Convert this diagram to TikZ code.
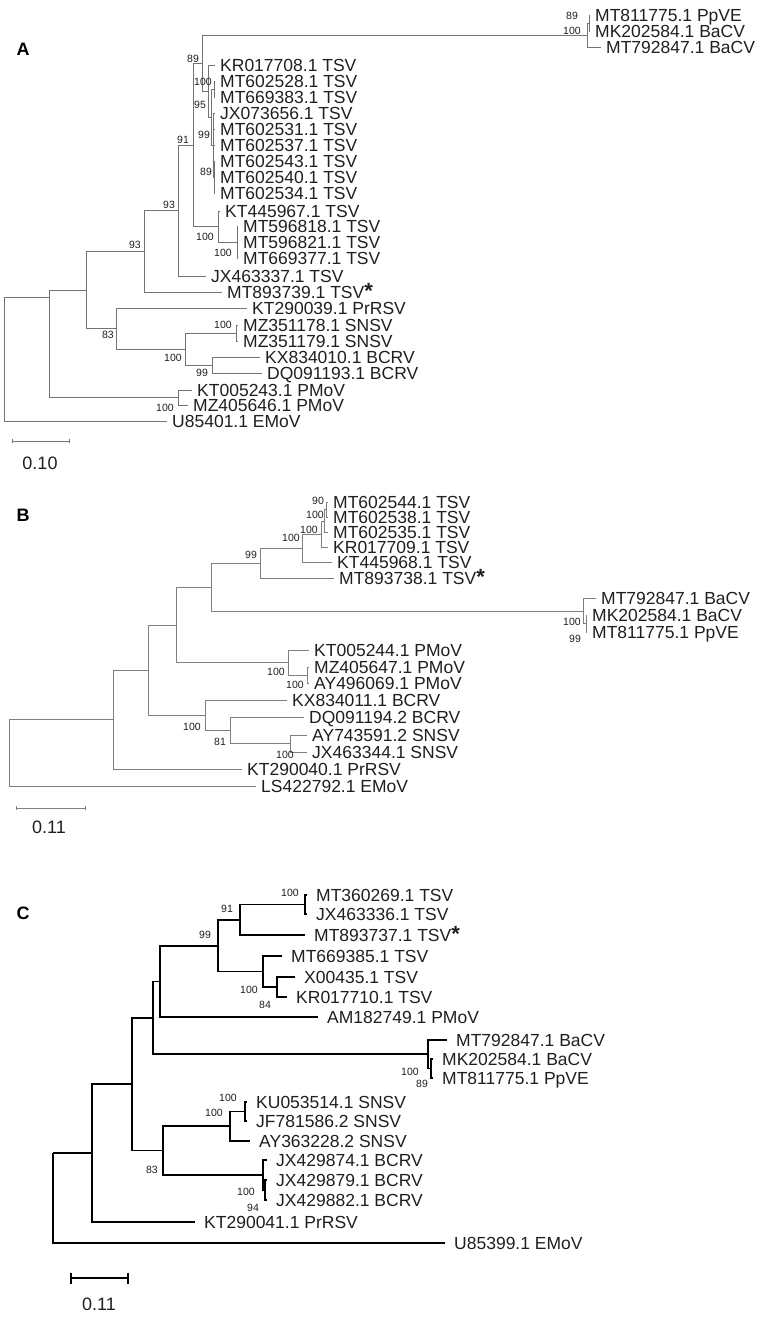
\documentclass[tikz,border=0pt]{standalone}
\usepackage{fontspec}
\setmainfont{Liberation Sans}
\usetikzlibrary{arrows.meta}

\begin{document}
\begin{tikzpicture}[x=1pt, y=-1pt,
	leaf/.style={anchor=west, inner xsep=5pt, inner ysep=0pt, text height=12.5pt, text depth=0pt, text=black!88, font=\fontsize{17.5}{17.5}\selectfont},
	leafC/.style={leaf, inner xsep=9pt},
	boot/.style={inner sep=0pt, text=black!88, font=\fontsize{10.5}{10.5}\selectfont},
	panel/.style={inner sep=0pt, font=\fontsize{18}{18}\selectfont\bfseries},
	scalelbl/.style={inner sep=0pt, text=black!88, font=\fontsize{18}{18}\selectfont},
	edgeA/.style={draw=black!55, line width=0.9pt},
	edgeB/.style={draw=black!50, line width=1pt},
	edgeC/.style={draw=black, line width=1.7pt}]

	\useasboundingbox (0,0) rectangle (765,1318);

	% A
	\node[panel] (A) at (23,49) {A};
	\node[leaf] (aMT811775) at (590,15) {MT811775.1 PpVE};
	\node[leaf] (aMK202584) at (590,31) {MK202584.1 BaCV};
	\node[leaf] (aMT792847) at (601,47) {MT792847.1 BaCV};
	\node[leaf] (aKR017708) at (215,65) {KR017708.1 TSV};
	\node[leaf] (aMT602528) at (215,81) {MT602528.1 TSV};
	\node[leaf] (aMT669383) at (215,97) {MT669383.1 TSV};
	\node[leaf] (aJX073656) at (215,113) {JX073656.1 TSV};
	\node[leaf] (aMT602531) at (215,129) {MT602531.1 TSV};
	\node[leaf] (aMT602537) at (215,145) {MT602537.1 TSV};
	\node[leaf] (aMT602543) at (215,161) {MT602543.1 TSV};
	\node[leaf] (aMT602540) at (215,177) {MT602540.1 TSV};
	\node[leaf] (aMT602534) at (215,193) {MT602534.1 TSV};
	\node[leaf] (aKT445967) at (220,211) {KT445967.1 TSV};
	\node[leaf] (aMT596818) at (238,226) {MT596818.1 TSV};
	\node[leaf] (aMT596821) at (238,242) {MT596821.1 TSV};
	\node[leaf] (aMT669377) at (238,258) {MT669377.1 TSV};
	\node[leaf] (aJX463337) at (206,276) {JX463337.1 TSV};
	\node[leaf] (aMT893739) at (222,292) {MT893739.1 TSV{\bfseries\fontsize{22}{22}\selectfont *}};
	\node[leaf] (aKT290039) at (247,308) {KT290039.1 PrRSV};
	\node[leaf] (aMZ351178) at (238,325) {MZ351178.1 SNSV};
	\node[leaf] (aMZ351179) at (238,341) {MZ351179.1 SNSV};
	\node[leaf] (aKX834010) at (260,357) {KX834010.1 BCRV};
	\node[leaf] (aDQ091193) at (262,373) {DQ091193.1 BCRV};
	\node[leaf] (aKT005243) at (192,390) {KT005243.1 PMoV};
	\node[leaf] (aMZ405646) at (188,405) {MZ405646.1 PMoV};
	\node[leaf] (aU85401) at (167,421) {U85401.1 EMoV};

	\coordinate (aBaCVin) at (589,23);
	\coordinate (aBaCV) at (587,35);
	\coordinate (a214) at (214,177);
	\coordinate (a213b) at (213,145);
	\coordinate (a213a) at (214,89);
	\coordinate (a211) at (211,117);
	\coordinate (a209) at (208,91);
	\coordinate (a202) at (202,63);
	\coordinate (a237) at (237,242);
	\coordinate (a218) at (218,226.5);
	\coordinate (a193) at (193,145);
	\coordinate (a178) at (178,210);
	\coordinate (a144) at (144,251);
	\coordinate (a236) at (236,333);
	\coordinate (a212) at (212,365);
	\coordinate (a185) at (185,349);
	\coordinate (a116) at (116,328.5);
	\coordinate (a86) at (86,290);
	\coordinate (aPMoV) at (178,397.5);
	\coordinate (a49) at (49,297);
	\coordinate (aRoot) at (4,297);

	\draw[edgeA] (aRoot) |- (a49) (aRoot) |- (aU85401.west);
	\draw[edgeA] (a49) |- (a86) (a49) |- (aPMoV);
	\draw[edgeA] (aPMoV) |- (aKT005243.west) (aPMoV) |- (aMZ405646.west);
	\draw[edgeA] (a86) |- (a144) (a86) |- (a116);
	\draw[edgeA] (a116) |- (aKT290039.west) (a116) |- (a185);
	\draw[edgeA] (a185) |- (a236) (a185) |- (a212);
	\draw[edgeA] (a236) |- (aMZ351178.west) (a236) |- (aMZ351179.west);
	\draw[edgeA] (a212) |- (aKX834010.west) (a212) |- (aDQ091193.west);
	\draw[edgeA] (a144) |- (a178) (a144) |- (aMT893739.west);
	\draw[edgeA] (a178) |- (a193) (a178) |- (aJX463337.west);
	\draw[edgeA] (a193) |- (a202) (a193) |- (a218);
	\draw[edgeA] (a218) |- (aKT445967.west) (a218) |- (a237);
	\draw[edgeA] (a237) |- (aMT596818.west) (a237) |- (aMT596821.west) (a237) |- (aMT669377.west);
	\draw[edgeA] (a202) |- (aBaCV) (a202) |- (a209);
	\draw[edgeA] (aBaCV) |- (aBaCVin) (aBaCV) |- (aMT792847.west);
	\draw[edgeA] (aBaCVin) |- (aMT811775.west) (aBaCVin) |- (aMK202584.west);
	\draw[edgeA] (a209) |- (aKR017708.west) (a209) |- (a211);
	\draw[edgeA] (a211) |- (a213a) (a211) |- (a213b);
	\draw[edgeA] (a213a) |- (aMT602528.west) (a213a) |- (aMT669383.west);
	\draw[edgeA] (a213b) |- (aJX073656.west) (a213b) |- (aMT602531.west) (a213b) |- (aMT602537.west) (a213b) |- (a214);
	\draw[edgeA] (a214) |- (aMT602543.west) (a214) |- (aMT602540.west) (a214) |- (aMT602534.west);

	\node[boot] (ab1) at (572,16) {89};
	\node[boot] (ab2) at (572,31) {100};
	\node[boot] (ab3) at (193,59) {89};
	\node[boot] (ab4) at (203,82) {100};
	\node[boot] (ab5) at (200,105) {95};
	\node[boot] (ab6) at (204,135) {99};
	\node[boot] (ab7) at (206,172) {89};
	\node[boot] (ab8) at (183,140) {91};
	\node[boot] (ab9) at (169,205) {93};
	\node[boot] (ab10) at (135,245) {93};
	\node[boot] (ab11) at (205,237) {100};
	\node[boot] (ab12) at (223,253) {100};
	\node[boot] (ab13) at (223,325) {100};
	\node[boot] (ab14) at (108,335) {83};
	\node[boot] (ab15) at (173,358) {100};
	\node[boot] (ab16) at (202,373) {99};
	\node[boot] (ab17) at (165,408) {100};

	\coordinate (aSL) at (12,441);
	\coordinate (aSR) at (70,441);
	\draw[edgeA, {Bar[width=4pt]}-{Bar[width=4pt]}] (aSL) -- (aSR);
	\node[scalelbl] (aScale) at (40,463) {0.10};

	% B
	\node[panel] (B) at (23,515) {B};
	\node[leaf] (bMT602544) at (328,502) {MT602544.1 TSV};
	\node[leaf] (bMT602538) at (328,517) {MT602538.1 TSV};
	\node[leaf] (bMT602535) at (328,532) {MT602535.1 TSV};
	\node[leaf] (bKR017709) at (328,547) {KR017709.1 TSV};
	\node[leaf] (bKT445968) at (332,562) {KT445968.1 TSV};
	\node[leaf] (bMT893738) at (334,578) {MT893738.1 TSV{\bfseries\fontsize{22}{22}\selectfont *}};
	\node[leaf] (bMT792847) at (596,598) {MT792847.1 BaCV};
	\node[leaf] (bMK202584) at (587,615) {MK202584.1 BaCV};
	\node[leaf] (bMT811775) at (587,632) {MT811775.1 PpVE};
	\node[leaf] (bKT005244) at (309,650) {KT005244.1 PMoV};
	\node[leaf] (bMZ405647) at (309,667) {MZ405647.1 PMoV};
	\node[leaf] (bAY496069) at (309,683) {AY496069.1 PMoV};
	\node[leaf] (bKX834011) at (287,700) {KX834011.1 BCRV};
	\node[leaf] (bDQ091194) at (304,717) {DQ091194.2 BCRV};
	\node[leaf] (bAY743591) at (307,735) {AY743591.2 SNSV};
	\node[leaf] (bJX463344) at (307,752) {JX463344.1 SNSV};
	\node[leaf] (bKT290040) at (242,769) {KT290040.1 PrRSV};
	\node[leaf] (bLS422792) at (256,786) {LS422792.1 EMoV};

	\coordinate (b326) at (326,509.5);
	\coordinate (b325) at (324,521);
	\coordinate (b322) at (321,534);
	\coordinate (b302) at (302,548);
	\coordinate (b260) at (260,563);
	\coordinate (b587) at (586,623.5);
	\coordinate (bBaCV) at (583,611);
	\coordinate (b211) at (211,587);
	\coordinate (b308) at (307,675);
	\coordinate (b288) at (288,662.5);
	\coordinate (b176) at (176,625);
	\coordinate (b290) at (290,743.5);
	\coordinate (b230) at (230,730);
	\coordinate (b205) at (205,715);
	\coordinate (b148) at (148,670);
	\coordinate (b113) at (113,719.5);
	\coordinate (bRoot) at (9,719.5);

	\draw[edgeB] (bRoot) |- (b113) (bRoot) |- (bLS422792.west);
	\draw[edgeB] (b113) |- (b148) (b113) |- (bKT290040.west);
	\draw[edgeB] (b148) |- (b176) (b148) |- (b205);
	\draw[edgeB] (b205) |- (bKX834011.west) (b205) |- (b230);
	\draw[edgeB] (b230) |- (bDQ091194.west) (b230) |- (b290);
	\draw[edgeB] (b290) |- (bAY743591.west) (b290) |- (bJX463344.west);
	\draw[edgeB] (b176) |- (b211) (b176) |- (b288);
	\draw[edgeB] (b288) |- (bKT005244.west) (b288) |- (b308);
	\draw[edgeB] (b308) |- (bMZ405647.west) (b308) |- (bAY496069.west);
	\draw[edgeB] (b211) |- (b260) (b211) |- (bBaCV);
	\draw[edgeB] (bBaCV) |- (bMT792847.west) (bBaCV) |- (b587);
	\draw[edgeB] (b587) |- (bMK202584.west) (b587) |- (bMT811775.west);
	\draw[edgeB] (b260) |- (b302) (b260) |- (bMT893738.west);
	\draw[edgeB] (b302) |- (b322) (b302) |- (bKT445968.west);
	\draw[edgeB] (b322) |- (b325) (b322) |- (bKR017709.west);
	\draw[edgeB] (b325) |- (b326) (b325) |- (bMT602535.west);
	\draw[edgeB] (b326) |- (bMT602544.west) (b326) |- (bMT602538.west);

	\node[boot] (bb1) at (318,501) {90};
	\node[boot] (bb2) at (315,515) {100};
	\node[boot] (bb3) at (309,530) {100};
	\node[boot] (bb4) at (291,538) {100};
	\node[boot] (bb5) at (251,555) {99};
	\node[boot] (bb6) at (572,622) {100};
	\node[boot] (bb7) at (575,639) {99};
	\node[boot] (bb8) at (276,672) {100};
	\node[boot] (bb9) at (295,685) {100};
	\node[boot] (bb10) at (192,727) {100};
	\node[boot] (bb11) at (220,742) {81};
	\node[boot] (bb12) at (285,755) {100};

	\coordinate (bSL) at (16,808);
	\coordinate (bSR) at (86,808);
	\draw[edgeB, {Bar[width=4pt]}-{Bar[width=4pt]}] (bSL) -- (bSR);
	\node[scalelbl] (bScale) at (49,827) {0.11};

	% C
	\node[panel] (C) at (23,913) {C};
	\node[leafC] (cMT360269) at (307,895) {MT360269.1 TSV};
	\node[leafC] (cJX463336) at (307,914) {JX463336.1 TSV};
	\node[leafC] (cMT893737) at (305,935) {MT893737.1 TSV{\bfseries\fontsize{22}{22}\selectfont *}};
	\node[leafC] (cMT669385) at (282,956) {MT669385.1 TSV};
	\node[leafC] (cX00435) at (295,977) {X00435.1 TSV};
	\node[leafC] (cKR017710) at (287,997) {KR017710.1 TSV};
	\node[leafC] (cAM182749) at (318,1017) {AM182749.1 PMoV};
	\node[leafC] (cMT792847) at (447,1040) {MT792847.1 BaCV};
	\node[leafC] (cMK202584) at (433,1059) {MK202584.1 BaCV};
	\node[leafC] (cMT811775) at (433,1078) {MT811775.1 PpVE};
	\node[leafC] (cKU053514) at (247,1102) {KU053514.1 SNSV};
	\node[leafC] (cJF781586) at (247,1121) {JF781586.2 SNSV};
	\node[leafC] (cAY363228) at (250,1141) {AY363228.2 SNSV};
	\node[leafC] (cJX429874) at (267,1160) {JX429874.1 BCRV};
	\node[leafC] (cJX429879) at (267,1180) {JX429879.1 BCRV};
	\node[leafC] (cJX429882) at (267,1200) {JX429882.1 BCRV};
	\node[leafC] (cKT290041) at (195,1222) {KT290041.1 PrRSV};
	\node[leafC] (cU85399) at (445,1243) {U85399.1 EMoV};

	\coordinate (c305) at (305,904.5);
	\coordinate (c240) at (240,920);
	\coordinate (c277) at (277,987);
	\coordinate (c263) at (263,971.5);
	\coordinate (c218) at (218,946);
	\coordinate (c160) at (160,981.5);
	\coordinate (c431) at (431,1068.5);
	\coordinate (cBaCV) at (428,1054);
	\coordinate (c153) at (153,1018);
	\coordinate (c245) at (245,1111.5);
	\coordinate (c230) at (230,1126);
	\coordinate (c265) at (265,1190);
	\coordinate (cBCRV) at (263,1175);
	\coordinate (c163) at (163,1150.5);
	\coordinate (c132) at (132,1084);
	\coordinate (c92) at (92,1153);
	\coordinate (cRoot) at (53,1153);

	\draw[edgeC] (cRoot) |- (c92) (cRoot) |- (cU85399.west);
	\draw[edgeC] (c92) |- (c132) (c92) |- (cKT290041.west);
	\draw[edgeC] (c132) |- (c153) (c132) |- (c163);
	\draw[edgeC] (c163) |- (c230) (c163) |- (cBCRV);
	\draw[edgeC] (cBCRV) |- (cJX429874.west) (cBCRV) |- (c265);
	\draw[edgeC] (c265) |- (cJX429879.west) (c265) |- (cJX429882.west);
	\draw[edgeC] (c230) |- (c245) (c230) |- (cAY363228.west);
	\draw[edgeC] (c245) |- (cKU053514.west) (c245) |- (cJF781586.west);
	\draw[edgeC] (c153) |- (c160) (c153) |- (cBaCV);
	\draw[edgeC] (cBaCV) |- (cMT792847.west) (cBaCV) |- (c431);
	\draw[edgeC] (c431) |- (cMK202584.west) (c431) |- (cMT811775.west);
	\draw[edgeC] (c160) |- (c218) (c160) |- (cAM182749.west);
	\draw[edgeC] (c218) |- (c240) (c218) |- (c263);
	\draw[edgeC] (c263) |- (cMT669385.west) (c263) |- (c277);
	\draw[edgeC] (c277) |- (cX00435.west) (c277) |- (cKR017710.west);
	\draw[edgeC] (c240) |- (c305) (c240) |- (cMT893737.west);
	\draw[edgeC] (c305) |- (cMT360269.west) (c305) |- (cJX463336.west);

	\node[boot] (cb1) at (290,893) {100};
	\node[boot] (cb2) at (227,909) {91};
	\node[boot] (cb3) at (205,935) {99};
	\node[boot] (cb4) at (249,990) {100};
	\node[boot] (cb5) at (265,1005) {84};
	\node[boot] (cb6) at (410,1072) {100};
	\node[boot] (cb7) at (422,1084) {89};
	\node[boot] (cb8) at (228,1098) {100};
	\node[boot] (cb9) at (214,1113) {100};
	\node[boot] (cb10) at (152,1170) {83};
	\node[boot] (cb11) at (246,1192) {100};
	\node[boot] (cb12) at (253,1208) {94};

	\coordinate (cSL) at (70,1278);
	\coordinate (cSR) at (129,1278);
	\draw[edgeC, {Bar[width=11pt]}-{Bar[width=11pt]}] (cSL) -- (cSR);
	\node[scalelbl] (cScale) at (99,1304) {0.11};

\end{tikzpicture}
\end{document}
